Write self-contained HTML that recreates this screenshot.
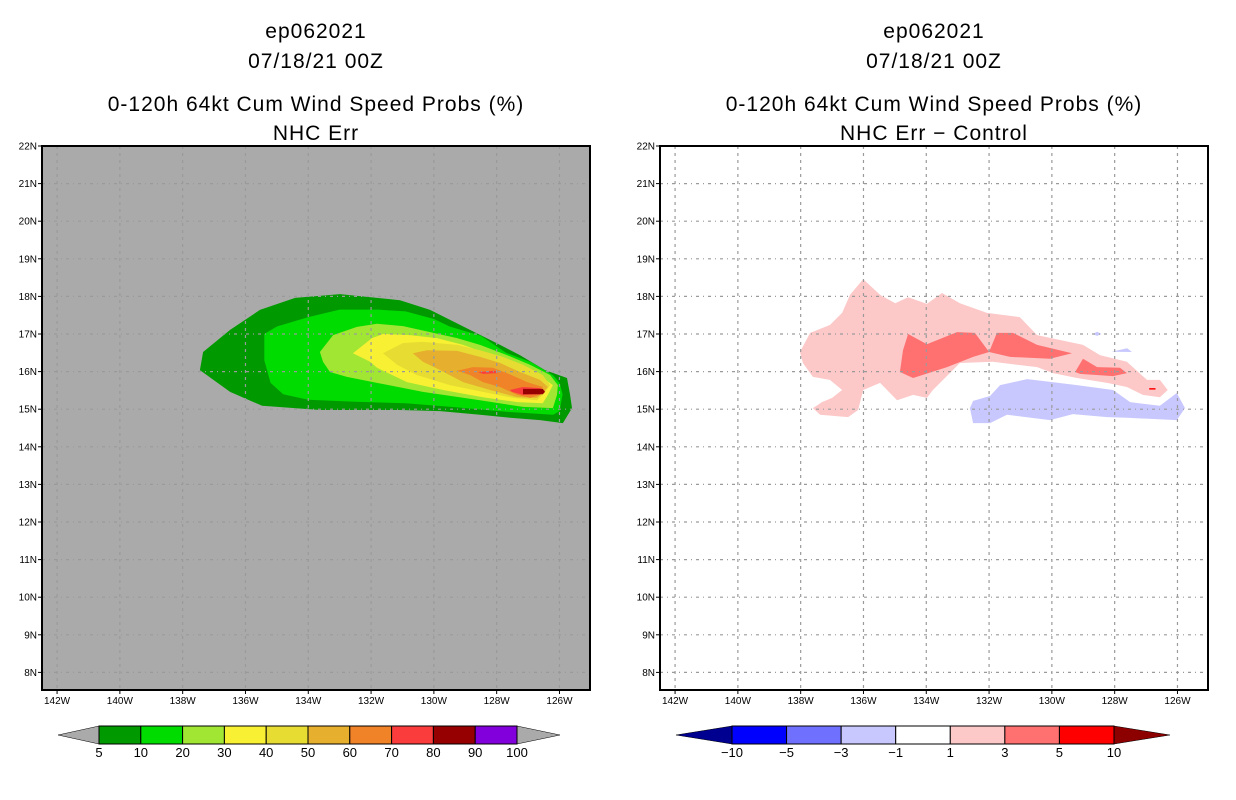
<!DOCTYPE html>
<html><head><meta charset="utf-8">
<style>
body{margin:0;background:#fff;width:1236px;height:800px;overflow:hidden;font-family:"Liberation Sans",sans-serif}
svg{position:absolute;left:0;top:0}
</style></head>
<body>
<svg id="svg" width="1236" height="800"></svg>
<script>
// ---- data ----
const latTicks=[22,21,20,19,18,17,16,15,14,13,12,11,10,9,8];
const lonTicks=[142,140,138,136,134,132,130,128,126];
const leftLevels=[5,10,20,30,40,50,60,70,80,90,100];
const leftColors=["#009a00","#00dc00","#a0e632","#f8f032","#e6dc32","#e6af2d","#f08228","#fa3c3c","#960000","#8200dc"];
const rightLevels=[-10,-5,-3,-1,1,3,5,10];
const rightColors=["#0000ff","#7070ff","#c8c8ff","#ffffff","#fcc8c8","#ff7070","#ff0000"];
// polygons: [lonW, lat], level index into colors
const poly5=[[137.45,16.04],[137.35,16.52],[136.49,17.11],[135.54,17.64],[134.42,17.96],[132.99,18.06],[131.08,17.9],[130.12,17.64],[128.85,17.11],[127.89,16.71],[127.26,16.44],[126.46,16.04],[125.76,15.83],[125.66,15.38],[125.6,15.03],[125.89,14.63],[126.62,14.71],[127.57,14.77],[128.53,14.85],[129.8,14.95],[131.08,14.98],[133.63,14.98],[135.47,15.09],[136.49,15.46]];
const poly10=[[135.4,17.0],[135.0,17.2],[134.0,17.45],[133.0,17.65],[131.8,17.65],[130.9,17.6],[130.0,17.4],[129.5,17.2],[128.5,16.95],[127.7,16.5],[126.9,16.25],[126.2,15.9],[126.0,15.7],[125.9,15.4],[126.0,14.95],[126.2,14.85],[127.7,14.93],[129.3,15.05],[130.9,15.16],[132.5,15.2],[134.0,15.25],[134.8,15.4],[135.2,15.7],[135.4,16.3]];
const poly20=[[133.63,16.52],[133.21,16.97],[132.45,17.19],[131.81,17.27],[130.98,17.21],[130.12,17.05],[129.26,16.89],[128.53,16.71],[127.67,16.44],[126.94,16.18],[126.3,15.91],[126.05,15.64],[126.08,15.38],[126.21,15.03],[127.16,15.06],[128.53,15.24],[130.35,15.46],[131.81,15.7],[132.77,15.86],[133.31,15.99],[133.53,16.26]];
const poly30=[[132.58,16.49],[131.97,16.89],[131.62,17.0],[130.76,16.97],[129.9,16.89],[129.07,16.71],[128.44,16.52],[127.67,16.31],[127.03,16.04],[126.53,15.83],[126.21,15.64],[126.37,15.38],[126.53,15.16],[127.35,15.19],[128.44,15.32],[129.71,15.51],[130.86,15.72],[131.81,16.1],[132.03,16.26]];
const poly40=[[131.62,16.49],[130.98,16.76],[130.35,16.79],[129.26,16.71],[128.53,16.57],[127.8,16.39],[127.16,16.18],[126.53,15.91],[126.3,15.64],[126.53,15.38],[126.72,15.24],[127.48,15.3],[128.44,15.46],[129.49,15.64],[130.54,15.91],[131.17,16.18]];
const poly50=[[130.67,16.49],[130.22,16.57],[129.26,16.55],[128.53,16.39],[127.89,16.23],[127.26,15.99],[126.62,15.78],[126.37,15.59],[126.53,15.43],[126.72,15.3],[127.35,15.32],[128.21,15.51],[129.07,15.72],[129.8,16.04],[130.35,16.26]];
const poly60=[[129.26,16.02],[128.75,16.12],[128.12,16.1],[127.67,15.96],[127.03,15.72],[126.53,15.59],[126.62,15.38],[126.94,15.3],[127.35,15.38],[127.89,15.59],[128.44,15.72],[128.85,15.91]];
const poly70a=[[128.59,15.99],[128.05,16.02],[127.96,15.96],[128.44,15.94]];
const poly70b=[[127.58,15.51],[127.16,15.59],[126.62,15.56],[126.46,15.48],[126.62,15.4],[127.16,15.38],[127.51,15.46]];
const poly80=[[127.16,15.54],[126.53,15.54],[126.46,15.46],[126.53,15.4],[127.16,15.4]];
const rPink=[[138.02,16.52],[137.7,17.03],[137.07,17.24],[136.68,17.56],[136.43,18.04],[136.01,18.46],[135.47,18.04],[134.99,17.82],[134.58,17.98],[133.98,17.8],[133.5,18.09],[132.93,17.82],[132.07,17.56],[131.02,17.45],[130.47,16.97],[129.74,16.84],[129.01,16.71],[128.47,16.44],[127.61,16.26],[126.97,15.78],[126.56,15.78],[126.31,15.51],[126.56,15.32],[127.1,15.38],[127.61,15.59],[128.24,15.7],[129.2,15.83],[129.96,15.96],[130.47,16.12],[131.88,16.26],[132.93,16.23],[133.79,15.51],[133.98,15.3],[134.42,15.38],[134.93,15.24],[135.47,15.7],[136.01,15.51],[136.17,14.98],[136.49,14.79],[137.38,14.85],[137.61,15.03],[137.32,15.19],[137.0,15.3],[136.68,15.51],[137.07,15.78],[137.61,15.86],[137.93,16.23]];
const rSalA=[[134.58,17.0],[133.98,16.73],[133.02,17.05],[132.45,17.03],[132.0,16.52],[132.51,16.39],[133.34,16.12],[134.42,15.83],[134.84,15.99],[134.74,16.57]];
const rSalB=[[132.0,16.52],[131.75,17.03],[131.24,17.03],[130.47,16.71],[129.36,16.49],[130.06,16.34],[131.33,16.39]];
const rSalC=[[129.26,15.99],[129.01,16.34],[128.56,16.12],[127.83,16.1],[127.61,15.96],[128.05,15.88],[129.1,15.94]];
const rBlue=[[132.61,15.03],[132.51,15.22],[131.97,15.35],[131.65,15.64],[130.79,15.8],[130.28,15.75],[129.2,15.64],[128.05,15.51],[127.51,15.19],[126.56,15.09],[126.02,15.43],[125.76,15.03],[126.02,14.71],[127.61,14.77],[128.24,14.79],[129.33,14.87],[130.06,14.71],[131.43,14.85],[131.97,14.63],[132.51,14.63]];
const rBlue2=[[128.7,17.0],[128.56,17.06],[128.42,17.0],[128.56,16.95]];
const rBlue3=[[128.1,16.53],[127.6,16.62],[127.45,16.52]];
const rRed=[[126.9,15.56],[126.7,15.56],[126.7,15.52],[126.9,15.52]];
const leftPolys=[[poly5,0],[poly10,1],[poly20,2],[poly30,3],[poly40,4],[poly50,5],[poly60,6],[poly70a,7],[poly70b,7],[poly80,8]];
const rightPolys=[[rPink,4],[rSalA,5],[rSalB,5],[rSalC,5],[rBlue,2],[rBlue2,2],[rBlue3,2],[rRed,6]];

// ---- axes ----
const TOP=146,BOT=690,W=548;
function yLat(lat){return TOP+(22-lat)*37.6;}
function xLon(lonW,off){return off+42+(142.48-lonW)*31.4;}
const NS="http://www.w3.org/2000/svg";
const svg=document.getElementById('svg');
function mk(tag,attrs,parent){const e=document.createElementNS(NS,tag);for(const k in attrs)e.setAttribute(k,attrs[k]);(parent||svg).appendChild(e);return e;}
function txt(x,y,s,size,anchor){const t=mk('text',{x:x,y:y,'font-size':size,'text-anchor':anchor||'middle','font-family':'Liberation Sans, sans-serif',fill:'#000'});t.textContent=s;return t;}

function panel(off,bg,polys,colors,titles,name){
  const g=mk('g',{});
  
  
  const cx=off+42+W/2;
  titles.forEach((s,i)=>{const t=txt(cx,[38,68,111,140][i],s,21);t.setAttribute('letter-spacing','1');g.appendChild(t);});
  const bgR=mk('rect',{x:off+42,y:TOP,width:W,height:BOT-TOP,fill:bg},g);
  
  
  polys.forEach(([pts,ci],i)=>{
    const p=mk('polygon',{points:pts.map(q=>xLon(q[0],off).toFixed(1)+','+yLat(q[1]).toFixed(1)).join(' '),fill:colors[ci]},g);
    
    
  });
  latTicks.forEach(l=>{
    const y=yLat(l);
    if(l<22){const gl=mk('line',{x1:off+42,x2:off+42+W,y1:y,y2:y,stroke:'#9a9a9a','stroke-width':1.2,'stroke-dasharray':'3,4,1,4'},g);
      }
    mk('line',{x1:off+38,x2:off+42,y1:y,y2:y,stroke:'#000'},g);
    const t=txt(off+37,y+3.5,l+'N',10,'end');g.appendChild(t);
  });
  lonTicks.forEach(l=>{
    const x=xLon(l,off);
    const gl=mk('line',{x1:x,x2:x,y1:TOP,y2:BOT,stroke:'#9a9a9a','stroke-width':1.2,'stroke-dasharray':'3,4'},g);
    
    mk('line',{x1:x,x2:x,y1:BOT,y2:BOT+4,stroke:'#000'},g);
    const t=txt(x,BOT+14,l+'W',10);g.appendChild(t);
  });
  const fr=mk('rect',{x:off+42,y:TOP,width:W,height:BOT-TOP,fill:'none',stroke:'#000','stroke-width':2},g);
  
}
panel(0,'#aaaaaa',leftPolys,leftColors,['ep062021','07/18/21 00Z','0-120h 64kt Cum Wind Speed Probs (%)','NHC Err'],'left-panel');
panel(618,'#ffffff',rightPolys,rightColors,['ep062021','07/18/21 00Z','0-120h 64kt Cum Wind Speed Probs (%)','NHC Err \u2212 Control'],'right-panel');

function colorbar(x0,x1,levels,colors,tipL,tipR,tipLcol,tipRcol,name){
  const g=mk('g',{});
  
  
  const y0=726,y1=744,n=colors.length,w=(x1-x0)/n;
  const a=mk('polygon',{points:`${tipL},735 ${x0},${y0} ${x0},${y1}`,fill:tipLcol,stroke:'#000','stroke-width':0.5},g);
  
  const b=mk('polygon',{points:`${tipR},735 ${x1},${y0} ${x1},${y1}`,fill:tipRcol,stroke:'#000','stroke-width':0.5},g);
  
  colors.forEach((c,i)=>{const r=mk('rect',{x:x0+i*w,y:y0,width:w,height:y1-y0,fill:c,stroke:'#000','stroke-width':1},g);
    });
  levels.forEach((l,i)=>{const t=txt(x0+i*w,757,(l<0?'\u2212'+(-l):String(l)),13);g.appendChild(t);});
}
colorbar(99,517,leftLevels,leftColors,58,560,'#aaaaaa','#aaaaaa','left-colorbar');
colorbar(732,1114,rightLevels,rightColors,676,1170,'#000090','#8c0000','right-colorbar');
</script>
</body></html>
